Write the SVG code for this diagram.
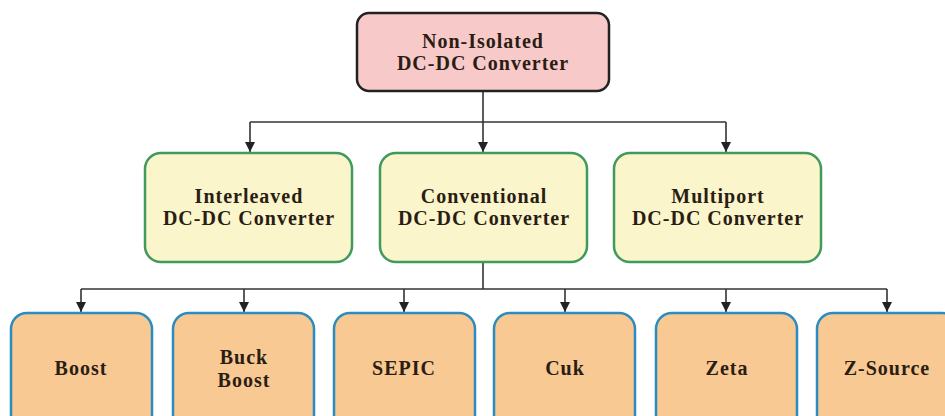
<svg xmlns="http://www.w3.org/2000/svg" width="945" height="416" viewBox="0 0 945 416">
<defs>
<style>
text{font-family:"Liberation Serif","Times New Roman",serif;font-weight:bold;font-size:20px;fill:#2a1d14;text-anchor:middle;letter-spacing:1px}
.top{fill:#f8c9c9;stroke:#222;stroke-width:2.5}
.mid{fill:#fbf5cb;stroke:#3f9a5c;stroke-width:2.5}
.bot{fill:#f9c993;stroke:#2a8cc0;stroke-width:2.5}
.c{fill:none;stroke:#333;stroke-width:1.6}
</style>
<marker id="ah" viewBox="0 0 10 10" refX="10" refY="5" markerWidth="10" markerHeight="10" markerUnits="userSpaceOnUse" orient="auto">
<path d="M0,0 L10,5 L0,10 z" fill="#222"/>
</marker>
</defs>
<rect width="945" height="416" fill="#fff"/>
<g id="connectors">
<path class="c" d="M483,91 V122"/>
<path class="c" d="M250,122 H726"/>
<path class="c" d="M250,122 V152" marker-end="url(#ah)"/>
<path class="c" d="M483,122 V152" marker-end="url(#ah)"/>
<path class="c" d="M726,122 V152" marker-end="url(#ah)"/>
<path class="c" d="M483,262 V289"/>
<path class="c" d="M81,289 H887"/>
<path class="c" d="M81,289 V312" marker-end="url(#ah)"/>
<path class="c" d="M244,289 V312" marker-end="url(#ah)"/>
<path class="c" d="M404,289 V312" marker-end="url(#ah)"/>
<path class="c" d="M565,289 V312" marker-end="url(#ah)"/>
<path class="c" d="M726,289 V312" marker-end="url(#ah)"/>
<path class="c" d="M887,289 V312" marker-end="url(#ah)"/>
</g>
<g id="root">
<rect class="top" x="357" y="13" width="252" height="78" rx="12"/>
<text x="483" y="48">Non-Isolated</text>
<text x="483" y="70">DC-DC Converter</text>
</g>
<g id="interleaved">
<rect class="mid" x="145" y="153" width="207" height="109" rx="16"/>
<text x="249" y="203">Interleaved</text>
<text x="249" y="225">DC-DC Converter</text>
</g>
<g id="conventional">
<rect class="mid" x="380" y="153" width="207" height="109" rx="16"/>
<text x="484" y="203">Conventional</text>
<text x="484" y="225">DC-DC Converter</text>
</g>
<g id="multiport">
<rect class="mid" x="614" y="153" width="207" height="109" rx="16"/>
<text x="718" y="203">Multiport</text>
<text x="718" y="225">DC-DC Converter</text>
</g>
<g id="boost">
<rect class="bot" x="11" y="313" width="141" height="120" rx="16"/>
<text x="81" y="375">Boost</text>
</g>
<g id="buckboost">
<rect class="bot" x="173" y="313" width="141" height="120" rx="16"/>
<text x="244" y="364">Buck</text>
<text x="244" y="387">Boost</text>
</g>
<g id="sepic">
<rect class="bot" x="334" y="313" width="141" height="120" rx="16"/>
<text x="404" y="375">SEPIC</text>
</g>
<g id="cuk">
<rect class="bot" x="494" y="313" width="141" height="120" rx="16"/>
<text x="565" y="375">Cuk</text>
</g>
<g id="zeta">
<rect class="bot" x="656" y="313" width="141" height="120" rx="16"/>
<text x="727" y="375">Zeta</text>
</g>
<g id="zsource">
<rect class="bot" x="817" y="313" width="141" height="120" rx="16"/>
<text x="887" y="375">Z-Source</text>
</g>
</svg>
